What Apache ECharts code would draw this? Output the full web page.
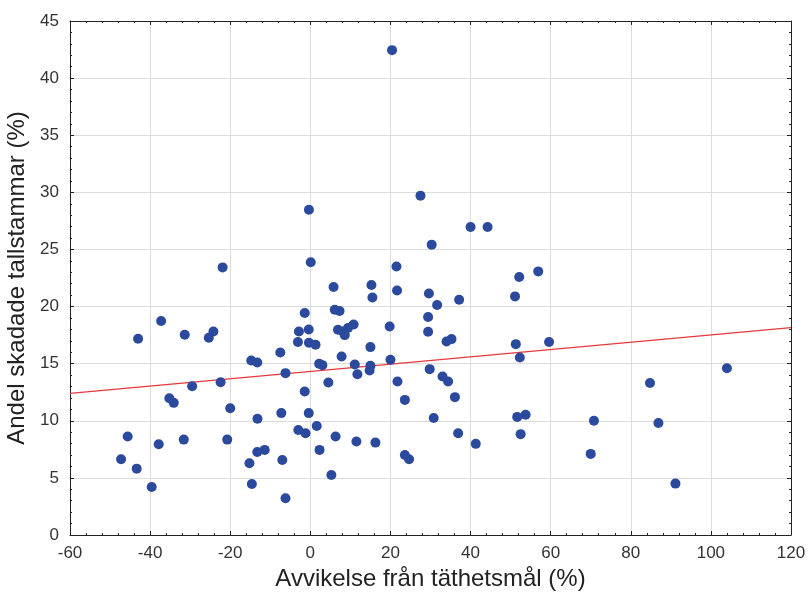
<!DOCTYPE html>
<html>
<head>
<meta charset="utf-8">
<script src="https://cdn.jsdelivr.net/npm/echarts@6/dist/echarts.min.js"></script>
<style>
    html, body { margin: 0; padding: 0; background: #fff; }
    #chart { width: 808px; height: 595px; }
</style>
</head>
<body>
<div id="chart"></div>
<script>
// avvikelse från täthetsmål (%)
const deviation = [
    -47.25, -45.6, -43.35, -43.0, -39.6, -37.85, -37.25, -35.2, -34.1, -31.35,
    -31.6, -29.5, -25.35, -24.2, -21.9, -22.4, -20.75, -20.0, -15.2, -14.75,
    -13.25, -14.6, -13.2, -13.25, -11.4, -7.5, -7.25, -7.0, -6.2, -6.2,
    -3.1, -2.85, -3.0, -1.4, -1.4, -1.2, -0.35, -0.4, 0.1, -0.4,
    -0.35, 1.3, 1.6, 2.2, 3.0, 2.3, 4.5, 5.25, 5.8, 6.1,
    7.3, 6.3, 6.9, 8.15, 7.8, 8.6, 9.4, 10.8, 11.1, 11.75,
    11.5, 15.25, 15.5, 15.0, 15.0, 14.8, 16.25, 19.8, 20.0, 20.4,
    21.5, 21.65, 21.75, 23.6, 23.6, 24.65, 27.5, 29.6, 29.4, 29.4,
    29.8, 30.3, 30.8, 31.65, 33.0, 34.4, 34.0, 35.25, 36.1, 36.9,
    37.15, 40.0, 41.3, 44.25, 51.1, 51.3, 51.65, 52.15, 52.3, 52.5,
    53.75, 56.9, 59.6, 70.0, 70.8, 84.8, 86.9, 91.15, 104.0
];

// andel skadade tallstammar (%)
const damaged = [
    6.63, 8.62, 5.81, 17.18, 4.21, 7.95, 18.73, 11.98, 11.57, 17.53,
    8.35, 13.03, 17.27, 17.82, 23.43, 13.38, 8.35, 11.1, 6.28, 15.28,
    15.1, 4.47, 10.17, 7.27, 7.45, 15.98, 10.67, 6.57, 14.17, 3.22,
    16.89, 17.82, 9.2, 19.43, 12.56, 8.91, 28.48, 17.99, 23.88, 10.67,
    16.83, 16.65, 9.55, 14.99, 14.87, 7.45, 13.35, 5.26, 21.71, 19.72,
    19.61, 8.62, 17.97, 17.82, 15.63, 17.5, 18.12, 18.43, 14.93, 14.08,
    8.18, 21.88, 20.8, 16.45, 14.81, 14.4, 8.09, 18.26, 15.34, 42.45,
    23.51, 21.41, 13.44, 11.83, 7.01, 6.63, 29.71, 21.15, 19.08, 17.79,
    14.52, 25.42, 10.25, 20.13, 13.87, 13.44, 16.94, 17.15, 12.07, 8.91,
    20.6, 26.97, 7.98, 26.97, 20.89, 16.71, 10.34, 22.59, 15.54, 8.83,
    10.52, 23.08, 16.89, 7.1, 10.0, 13.3, 9.8, 4.5, 14.6
];

// regressionslinje
const trendX = [-60, 120];
const trendY = [12.4, 18.15];

const points = deviation.map(function (x, i) { return [x, damaged[i]]; });
const trend = trendX.map(function (x, i) { return [x, trendY[i]]; });

const FONT = '"Liberation Sans", Arial, sans-serif';

const boxAxis = {
    axisLine: { show: true, onZero: false, lineStyle: { color: '#222', width: 1 } },
    axisTick: { show: true, inside: true, length: 4, lineStyle: { color: '#222' } },
    minorTick: { show: true, splitNumber: 5, length: 2, lineStyle: { color: '#222' } },
    axisLabel: { show: false },
    splitLine: { show: false }
};

const chart = echarts.init(document.getElementById('chart'));

chart.setOption({
    backgroundColor: '#fff',
    animation: false,
    grid: {
        left: 70,
        right: 17,
        top: 21,
        bottom: 60,
        outerBoundsMode: 'none',
        containLabel: false
    },
    xAxis: [
        {
            type: 'value',
            min: -60,
            max: 120,
            interval: 20,
            name: 'Avvikelse från täthetsmål (%)',
            nameLocation: 'middle',
            nameGap: 30,
            nameTextStyle: { fontFamily: FONT, fontSize: 24, color: '#222' },
            axisLine: { show: true, onZero: false, lineStyle: { color: '#222', width: 1 } },
            axisTick: { show: true, inside: true, length: 4, lineStyle: { color: '#222' } },
            minorTick: { show: true, splitNumber: 5, length: 2, lineStyle: { color: '#222' } },
            axisLabel: { fontFamily: FONT, fontSize: 17, color: '#333', margin: 10 },
            splitLine: { show: true, lineStyle: { color: '#dcdcdc', width: 1 } }
        },
        Object.assign({ type: 'value', position: 'top', min: -60, max: 120, interval: 20 }, boxAxis)
    ],
    yAxis: [
        {
            type: 'value',
            min: 0,
            max: 45,
            interval: 5,
            name: 'Andel skadade tallstammar (%)',
            nameLocation: 'middle',
            nameGap: 32,
            nameTextStyle: { fontFamily: FONT, fontSize: 24, color: '#222' },
            axisLine: { show: true, onZero: false, lineStyle: { color: '#222', width: 1 } },
            axisTick: { show: true, inside: true, length: 4, lineStyle: { color: '#222' } },
            minorTick: { show: true, splitNumber: 5, length: 2, lineStyle: { color: '#222' } },
            axisLabel: { fontFamily: FONT, fontSize: 17, color: '#333', margin: 11 },
            splitLine: { show: true, lineStyle: { color: '#dcdcdc', width: 1 } }
        },
        Object.assign({ type: 'value', position: 'right', min: 0, max: 45, interval: 5 }, boxAxis)
    ],
    series: [
        {
            type: 'line',
            data: trend,
            symbol: 'none',
            lineStyle: { color: '#e8383d', width: 1.2 },
            z: 1
        },
        {
            type: 'scatter',
            data: points,
            symbolSize: 10,
            itemStyle: { color: '#2c4a9d', opacity: 1 },
            z: 2
        }
    ]
});
</script>
</body>
</html>
